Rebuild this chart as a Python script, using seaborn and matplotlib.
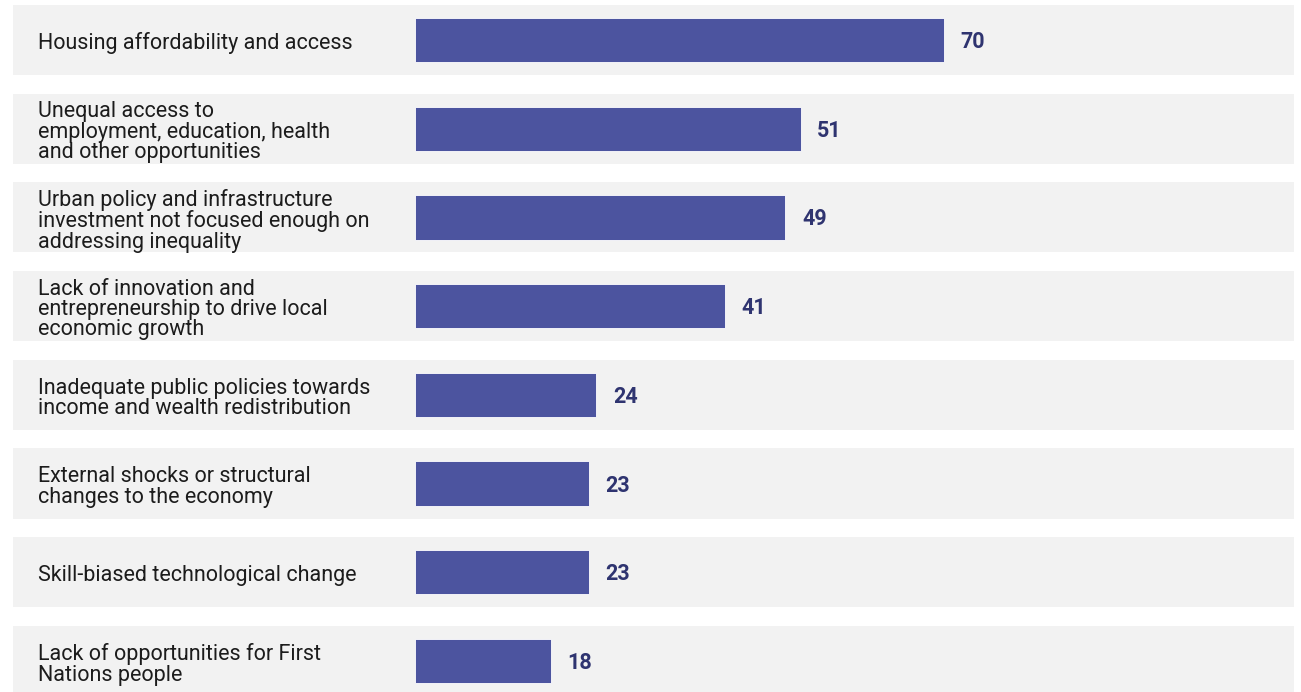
import matplotlib
matplotlib.use("Agg")
import matplotlib.pyplot as plt
import matplotlib.transforms as mtransforms
import seaborn as sns
import pandas as pd

categories = [
    "Housing affordability and access",
    "Unequal access to\nemployment, education, health\nand other opportunities",
    "Urban policy and infrastructure\ninvestment not focused enough on\naddressing inequality",
    "Lack of innovation and\nentrepreneurship to drive local\neconomic growth",
    "Inadequate public policies towards\nincome and wealth redistribution",
    "External shocks or structural\nchanges to the economy",
    "Skill-biased technological change",
    "Lack of opportunities for First\nNations people",
]
values = [70, 51, 49, 41, 24, 23, 23, 18]

BAR = "#4c549f"
LABEL = "#2f3470"
BAND = "#f2f2f2"

sns.set_theme(style="white")
plt.rcParams["font.family"] = ["Roboto", "DejaVu Sans"]

W, H = 1301, 692
fig = plt.figure(figsize=(W / 100, H / 100), dpi=100)
ax = fig.add_axes([0, 0, 1, 1])

df = pd.DataFrame({"category": categories, "value": values})

# horizontal scale: 0 sits at x=415 px, ~7.56 px per unit
px_per_unit = 7.56
x0_px = 415
ax.set_xlim(-x0_px / px_per_unit, (W - x0_px) / px_per_unit)

# grey row bands behind each bar
for i in range(len(categories)):
    ax.axhspan(i - 0.395, i + 0.395, xmin=13 / W, xmax=1294 / W,
               color=BAND, lw=0, zorder=0)

sns.barplot(data=df, x="value", y="category", orient="h", color=BAR,
            width=0.5, saturation=1, edgecolor="white", linewidth=0.6,
            ax=ax, zorder=2)

pitch = 88.7
top = 40
ax.set_ylim((H - top) / pitch, -top / pitch)
ax.set_xlim(-x0_px / px_per_unit, (W - x0_px) / px_per_unit)

trans = mtransforms.blended_transform_factory(ax.transAxes, ax.transData)
for i, (cat, v) in enumerate(zip(categories, values)):
    ax.annotate(cat, xy=(38 / W, i), xycoords=trans, xytext=(0, -2.5),
                textcoords="offset points", ha="left", va="center",
                fontsize=15.5, color="#1c1c1c", linespacing=0.96)
    ax.annotate(f"{v}", xy=(v, i), xytext=(12, -1.5), textcoords="offset points",
                ha="left", va="center", fontsize=15.5, fontweight="bold",
                color=LABEL)

ax.set_axis_off()
fig.savefig("out.png", dpi=100)
